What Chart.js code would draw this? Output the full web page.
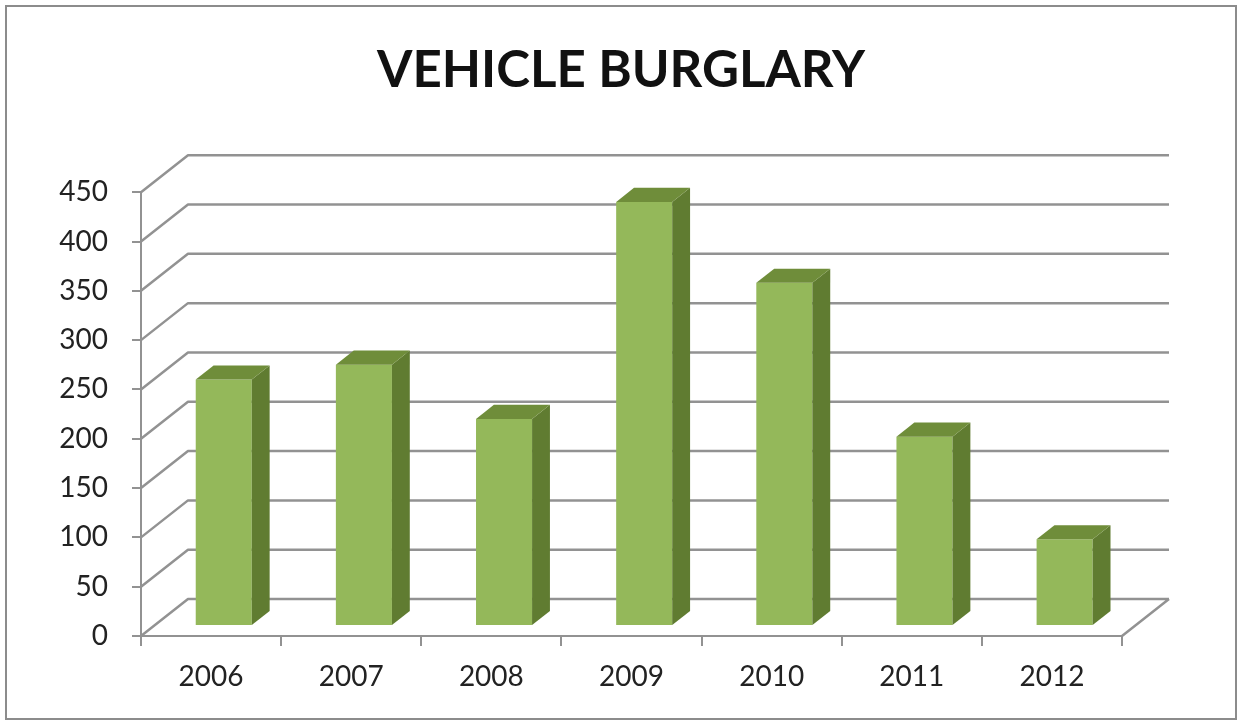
<!DOCTYPE html>
<html>
<head>
<meta charset="utf-8">
<title>Vehicle Burglary</title>
<script src="https://cdn.jsdelivr.net/npm/chart.js@4/dist/chart.umd.min.js"></script>
<style>
  html, body { margin: 0; padding: 0; background: #ffffff; }
  #wrap { position: relative; width: 1242px; height: 725px; }
</style>
</head>
<body>
<div id="wrap"><canvas id="burglaryChart" width="1242" height="725"></canvas></div>
<script>
const years = ['2006', '2007', '2008', '2009', '2010', '2011', '2012'];
const burglaries = [250, 265, 210, 430, 348, 192, 88];
const yAxisMax = 450;
const yAxisStep = 50;

const GRID_COLOR = '#929292';
const FRONT_COLOR = '#94b85a';
const SIDE_COLOR = '#607c31';
const TOP_COLOR = '#6f8d3a';

// depth of the floor/walls and where the bars sit inside it
const WALL_DX = 47;
const WALL_DY = -37;
const BAR_FRONT = 0.27;
const BAR_DEPTH = 0.38;

const fakeDepth = {
    id: 'fakeDepth',
    beforeDraw(chart) {
        const ctx = chart.ctx;
        ctx.save();
        ctx.strokeStyle = '#8c8c8c';
        ctx.lineWidth = 2;
        ctx.strokeRect(6, 6, chart.width - 12, chart.height - 12);
        ctx.restore();
    },
    beforeDatasetsDraw(chart) {
        const { ctx, chartArea, scales } = chart;
        const y = scales.y;

        ctx.save();
        ctx.strokeStyle = GRID_COLOR;
        ctx.lineWidth = 2.5;
        ctx.lineJoin = 'round';
        ctx.beginPath();
        y.ticks.forEach((t) => {
            const py = y.getPixelForValue(t.value);
            ctx.moveTo(chartArea.left, py);
            ctx.lineTo(chartArea.left + WALL_DX, py + WALL_DY);
            ctx.lineTo(chartArea.right + WALL_DX, py + WALL_DY);
        });
        // right edge of the floor
        ctx.moveTo(chartArea.right, chartArea.bottom);
        ctx.lineTo(chartArea.right + WALL_DX, chartArea.bottom + WALL_DY);
        ctx.stroke();
        ctx.restore();

        // front faces get pushed back into the box
        ctx.save();
        ctx.translate(WALL_DX * BAR_FRONT, WALL_DY * BAR_FRONT);
    },
    afterDatasetsDraw(chart) {
        const ctx = chart.ctx;
        ctx.restore();

        const ox = WALL_DX * BAR_FRONT;
        const oy = WALL_DY * BAR_FRONT;
        const sx = WALL_DX * BAR_DEPTH;
        const sy = WALL_DY * BAR_DEPTH;

        chart.getDatasetMeta(0).data.forEach((bar) => {
            const { x, y, base, width } = bar.getProps(['x', 'y', 'base', 'width'], true);
            const left = x - width / 2 + ox;
            const right = x + width / 2 + ox;
            const top = y + oy;
            const bottom = base + oy;

            ctx.fillStyle = SIDE_COLOR;
            ctx.beginPath();
            ctx.moveTo(right, top);
            ctx.lineTo(right + sx, top + sy);
            ctx.lineTo(right + sx, bottom + sy);
            ctx.lineTo(right, bottom);
            ctx.closePath();
            ctx.fill();

            ctx.fillStyle = TOP_COLOR;
            ctx.beginPath();
            ctx.moveTo(left, top);
            ctx.lineTo(right, top);
            ctx.lineTo(right + sx, top + sy);
            ctx.lineTo(left + sx, top + sy);
            ctx.closePath();
            ctx.fill();
        });
    }
};

const ctx = document.getElementById('burglaryChart').getContext('2d');

new Chart(ctx, {
    type: 'bar',
    data: {
        labels: years,
        datasets: [{
            label: 'Vehicle burglary',
            data: burglaries,
            backgroundColor: FRONT_COLOR,
            borderWidth: 0,
            categoryPercentage: 1,
            barPercentage: 0.4,
            clip: false
        }]
    },
    options: {
        responsive: false,
        animation: false,
        events: [],
        layout: { padding: 0 },
        plugins: {
            legend: { display: false },
            tooltip: { enabled: false },
            title: {
                display: true,
                text: 'VEHICLE BURGLARY',
                color: '#111111',
                font: { family: 'Lato', size: 51, weight: 'bold', lineHeight: 1.2 },
                padding: { top: 40, bottom: 91 }
            }
        },
        scales: {
            x: {
                offset: true,
                grid: {
                    offset: true,
                    drawOnChartArea: false,
                    drawTicks: true,
                    tickLength: 10,
                    color: GRID_COLOR,
                    lineWidth: 2
                },
                border: { color: GRID_COLOR, width: 2 },
                ticks: {
                    color: '#222222',
                    padding: 14,
                    font: { family: 'Lato', size: 28 }
                },
                afterFit: (scale) => { scale.width = 981; scale.height = 89; }
            },
            y: {
                min: 0,
                max: yAxisMax,
                ticks: {
                    stepSize: yAxisStep,
                    color: '#222222',
                    padding: 24,
                    font: { family: 'Lato', size: 28 }
                },
                grid: {
                    drawOnChartArea: false,
                    drawTicks: true,
                    tickLength: 9,
                    color: GRID_COLOR,
                    lineWidth: 2
                },
                border: { color: GRID_COLOR, width: 2 },
                afterFit: (scale) => { scale.width = 141; }
            },
            // empty right-hand strip that holds room for the back wall
            side: {
                type: 'linear',
                position: 'right',
                display: true,
                ticks: { display: false },
                grid: { display: false },
                border: { display: false },
                afterFit: (scale) => { scale.width = 120; }
            }
        }
    },
    plugins: [fakeDepth]
});
</script>
</body>
</html>
